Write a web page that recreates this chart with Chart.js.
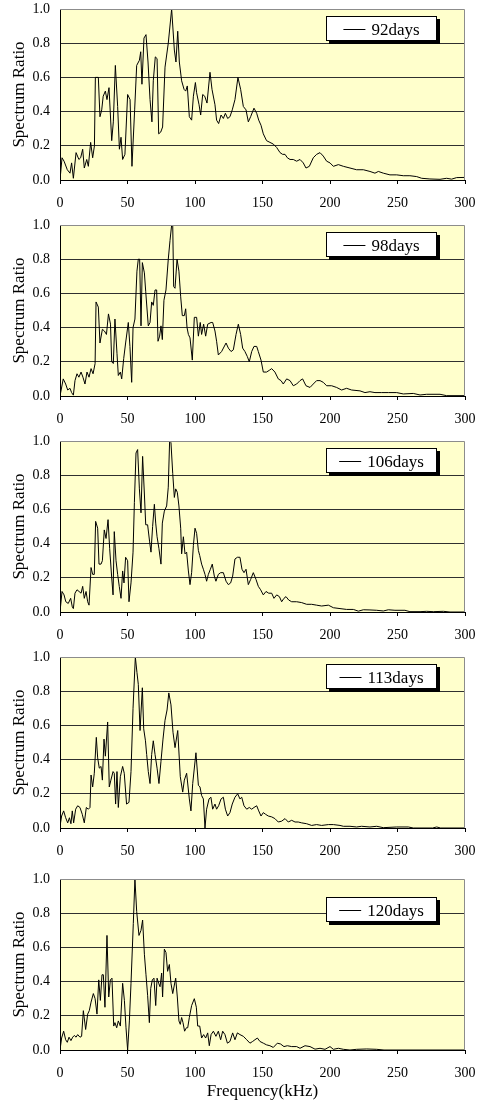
<!DOCTYPE html>
<html>
<head>
<meta charset="utf-8">
<script src="https://cdn.jsdelivr.net/npm/chart.js@4.4.1/dist/chart.umd.min.js"></script>
<style>
  body { margin: 0; background: #fff; }
  .panel { position: absolute; left: 0; width: 479px; }
</style>
</head>
<body>
<div class="panel" style="top:0px"><canvas id="c92" width="479" height="215"></canvas></div>
<div class="panel" style="top:216px"><canvas id="c98" width="479" height="215"></canvas></div>
<div class="panel" style="top:432px"><canvas id="c106" width="479" height="215"></canvas></div>
<div class="panel" style="top:648px"><canvas id="c113" width="479" height="215"></canvas></div>
<div class="panel" style="top:870px"><canvas id="c120" width="479" height="240"></canvas></div>
<script>
'use strict';

// tick labels
const xTicks = [0, 50, 100, 150, 200, 250, 300];
const yTicks = [0, 0.2, 0.4, 0.6, 0.8, 1.0];

// 92 days
const freq92 = [0,1.5,3,5.4,7.4,8.6,9.9,11.9,14,15.3,16.8,18,19.8,21,22.7,24.2,25.5,26.2,28.4,29.6,30.9,32,33.6,34.8,36.3,38.3,39.5,41,42.7,44,45.2,46.4,48.1,50.1,51.9,53.3,55.3,56.8,58.8,59.8,60.7,62.2,63.7,65.2,66.7,68.1,69.1,70.6,71.9,73.1,74.6,76,77.8,80.2,82.7,84.7,85.9,87.2,88.4,90.1,91.9,93.1,94.3,95.8,97.5,98.8,100.3,101.2,103,104.2,105.7,107.2,108.9,111.1,112.6,114.8,116,117.5,119.3,121,122.5,124.2,125.9,127.6,129.6,131.8,133.8,135.8,137.8,139.5,141.2,143.7,145.7,147.2,148.9,150.6,153,155.5,158,160.5,163,164.9,166.7,168.4,170.4,172.8,175.3,177.8,180.2,182.2,184.7,187.6,190.1,192.6,195,197.5,200,202.5,206.2,209.9,214.8,219.7,224.7,229.6,233.3,235.8,239.5,244.4,249.4,254.3,259.2,264.2,267.9,274,281.5,286.4,290.1,293.8,300];
const ratio92 = [0,0.13,0.11,0.06,0.04,0.10,0.01,0.16,0.12,0.13,0.18,0.07,0.12,0.08,0.22,0.13,0.20,0.60,0.60,0.37,0.41,0.49,0.52,0.47,0.54,0.23,0.34,0.67,0.43,0.18,0.25,0.12,0.15,0.50,0.47,0.08,0.41,0.67,0.70,0.75,0.56,0.83,0.85,0.69,0.47,0.34,0.58,0.72,0.71,0.27,0.28,0.31,0.66,0.80,1.0,0.76,0.69,0.87,0.69,0.58,0.53,0.52,0.55,0.37,0.35,0.49,0.57,0.51,0.44,0.38,0.50,0.49,0.45,0.63,0.53,0.44,0.35,0.33,0.38,0.36,0.39,0.36,0.37,0.41,0.47,0.60,0.53,0.43,0.41,0.34,0.37,0.42,0.39,0.35,0.32,0.27,0.23,0.22,0.21,0.19,0.16,0.15,0.15,0.13,0.12,0.12,0.11,0.12,0.10,0.07,0.08,0.13,0.15,0.16,0.14,0.11,0.10,0.08,0.09,0.08,0.07,0.06,0.06,0.05,0.04,0.05,0.04,0.03,0.03,0.025,0.025,0.02,0.01,0.006,0.004,0.01,0.005,0.014,0.015];

// 98 days
const freq98 = [0,2.4,4.2,5.7,7.4,8.6,9.9,11.1,12.6,14,15.6,17,18.5,20,21.5,23,24.5,26,26.7,28.4,29.6,31.4,32.9,34.4,35.9,37.4,38.3,39.5,40.7,42.2,43.2,44.7,45.7,47.2,48.6,50.6,51.8,53.1,54.1,55.5,57,58,59,60,61,62.5,63.5,65.4,66.7,67.9,69.1,70.4,71.6,72.6,73.8,74.8,75.8,77,78.5,80.2,81.5,82.7,83.5,84.2,85.2,86.7,88.1,89.4,90.6,92.1,93.1,94.1,95.1,96.3,98,99.5,101.2,102.5,103.9,104.9,106.4,107.9,109.4,111.9,113.1,114.8,116,117.3,119.7,123,124.7,126.7,128.4,130.4,132.1,133.8,135.3,137,138.8,140.2,142,143.7,145.7,146.9,148.9,150.6,153,155,156.8,159.2,161.7,163.7,165.4,167.9,170.4,172.8,175.3,177.8,179.7,182.2,185.2,187.6,190.1,192.6,195,197.5,201.2,204.9,208.6,212.3,216,222.2,225.9,229.6,233.3,238.3,243.2,249.4,254.3,261.7,266.7,271.6,281.5,286.4,300];
const ratio98 = [0,0.10,0.07,0.035,0.045,0.02,0.005,0.09,0.13,0.11,0.14,0.11,0.07,0.14,0.11,0.16,0.13,0.19,0.55,0.52,0.31,0.39,0.38,0.36,0.48,0.42,0.20,0.19,0.45,0.25,0.12,0.14,0.10,0.22,0.31,0.43,0.29,0.08,0.40,0.45,0.73,0.80,0.80,0.41,0.78,0.72,0.61,0.41,0.43,0.55,0.53,0.62,0.62,0.32,0.35,0.41,0.33,0.56,0.62,0.80,0.91,1.0,1.0,0.64,0.63,0.80,0.73,0.58,0.47,0.47,0.51,0.40,0.36,0.34,0.21,0.46,0.46,0.35,0.43,0.36,0.42,0.35,0.42,0.43,0.43,0.38,0.32,0.24,0.26,0.31,0.28,0.26,0.27,0.36,0.42,0.36,0.28,0.26,0.23,0.20,0.26,0.29,0.29,0.26,0.21,0.14,0.14,0.15,0.16,0.14,0.10,0.09,0.07,0.10,0.09,0.06,0.07,0.09,0.10,0.06,0.05,0.07,0.09,0.09,0.08,0.06,0.06,0.05,0.035,0.045,0.035,0.03,0.02,0.025,0.02,0.02,0.02,0.02,0.012,0.015,0.006,0.01,0.01,0.002,0.002];

// 106 days
const freq106 = [0,1.5,3,4.3,6.1,7.9,9.1,9.9,11.1,12.6,14.1,15.6,16.8,18,19.3,20.5,21.5,23,24.2,25.4,26.4,27.9,28.9,30.4,31.4,32.8,34.1,35.6,36.8,38.3,39.3,40.2,41.5,42.7,43.9,45.2,46.4,47.4,48.6,50.1,51.1,52.6,54.1,55.1,56.3,57.5,58.8,60,61.2,62.5,63.5,64.9,66.4,67.4,68.6,69.9,70.9,71.9,73.3,74.8,75.8,77.3,79,80.2,81.2,82.2,83.5,84.7,85.7,86.9,88.1,89.4,90.1,91.4,92.6,93.8,95.1,96.3,97.5,98.8,100,101.2,102.5,103.5,104.9,106.2,107.4,108.6,109.9,111.4,112.8,114.3,115.5,117.3,119,121,123,124.7,126.4,127.9,129.6,131.4,133.3,134.8,136.3,137.8,139.5,141.2,143.2,145.2,146.9,148.6,150.6,152.6,154.6,156.8,158.5,160.5,162.5,164.2,165.9,167.4,169.4,171.6,175.3,179,182.7,186.4,190.1,193.8,198.8,202.5,207.4,212.3,217.3,221,224.7,229.6,234.6,239.5,243.2,248.1,255.5,259.2,266.7,271.6,276.5,284,288.9,300];
const ratio106 = [0,0.12,0.10,0.06,0.05,0.08,0.03,0.02,0.11,0.13,0.12,0.11,0.15,0.08,0.12,0.06,0.04,0.26,0.22,0.22,0.53,0.49,0.28,0.28,0.30,0.48,0.43,0.54,0.37,0.20,0.10,0.47,0.30,0.22,0.15,0.08,0.24,0.17,0.32,0.30,0.06,0.17,0.35,0.64,0.93,0.95,0.72,0.58,0.91,0.69,0.51,0.51,0.41,0.35,0.50,0.63,0.52,0.44,0.37,0.28,0.52,0.59,0.62,0.73,1.0,0.99,0.81,0.67,0.72,0.70,0.62,0.49,0.34,0.44,0.34,0.35,0.24,0.16,0.23,0.39,0.49,0.46,0.36,0.33,0.28,0.25,0.22,0.18,0.22,0.25,0.28,0.21,0.18,0.22,0.23,0.23,0.18,0.16,0.17,0.21,0.31,0.32,0.32,0.25,0.23,0.25,0.16,0.19,0.23,0.19,0.15,0.13,0.10,0.12,0.11,0.11,0.08,0.10,0.09,0.06,0.08,0.09,0.07,0.06,0.06,0.055,0.045,0.045,0.04,0.035,0.04,0.025,0.02,0.015,0.015,0.005,0.013,0.012,0.01,0.006,0.013,0.01,0.01,0.002,0.002,0.004,0.002,0.004,0,0];

// 113 days
const freq113 = [0,1.2,2.7,4.2,5.7,7,8.1,9.1,10.1,11.6,13.1,14.8,16.5,18,19.5,21,22.2,23,24.2,25.4,26.9,27.9,29.1,30.4,31.4,32.6,33.6,35.3,36.5,37.7,39.3,40.2,41.2,42.2,43.2,44.7,46.4,47.6,49.3,51.1,52.6,54.1,55.8,57,58,59.3,61,62,63.3,64.2,65.4,66.7,67.9,69.1,70.4,71.9,73.3,74.8,76.3,77.8,79.3,80.6,82.2,83.7,85.2,87.2,89.1,90.9,92.1,93.8,95.8,97,98.3,100.7,102.5,103.7,104.9,106.2,107.4,108.6,110.4,111.8,113.1,114.8,116,117.5,119.3,121,122.5,124.2,125.9,127.6,129.6,131.6,133.3,134.6,136.3,138.3,140.2,142,143.7,145.7,147.2,148.9,150.6,152.3,154.3,156.8,159.2,161.7,164.2,166.7,169.1,171.6,174.1,176.5,179,182.7,186.4,190.1,193.8,198.8,202.5,207.4,209.9,214.8,219.7,223.4,229.6,234.6,239.5,249.4,258,261.7,276,279,282,300];
const ratio113 = [0.01,0.07,0.10,0.06,0.03,0.06,0.025,0.10,0.03,0.11,0.13,0.12,0.08,0.03,0.12,0.11,0.12,0.31,0.24,0.32,0.53,0.41,0.35,0.36,0.28,0.52,0.42,0.62,0.24,0.28,0.33,0.32,0.14,0.33,0.12,0.30,0.36,0.32,0.14,0.15,0.33,0.70,1.0,0.91,0.84,0.57,0.82,0.58,0.51,0.43,0.33,0.26,0.43,0.51,0.43,0.35,0.26,0.39,0.52,0.63,0.69,0.79,0.72,0.56,0.47,0.57,0.30,0.21,0.28,0.32,0.17,0.10,0.26,0.44,0.25,0.24,0.19,0.17,0.0,0.11,0.17,0.18,0.11,0.14,0.11,0.13,0.17,0.18,0.11,0.07,0.09,0.14,0.18,0.20,0.17,0.18,0.13,0.11,0.12,0.11,0.12,0.13,0.10,0.07,0.09,0.08,0.07,0.065,0.055,0.035,0.04,0.055,0.035,0.045,0.035,0.035,0.03,0.025,0.015,0.02,0.015,0.02,0.02,0.015,0.01,0.01,0.006,0.01,0.006,0.01,0.002,0.006,0.006,0,0,0.006,0,0];

// 120 days
const freq120 = [0,1.2,2.7,4.2,5.4,6.7,8.1,9.4,10.6,11.9,13.1,14.8,16,17.3,19,20.5,21.7,23,24.7,26,27.4,28.7,29.9,31.1,32.1,33.3,34.8,36.1,37.3,38.5,39.8,40.7,42,43.2,44.7,46.4,47.7,48.9,50.1,51.4,52.6,54.3,55.5,56.8,58.5,60,61.2,62.5,63.7,64.9,66.2,67.2,68.4,69.6,70.9,71.9,73.1,74.1,75.3,76,77.3,78.5,79.7,81,82.2,83.5,84.7,85.7,86.9,88.1,89.1,90.1,91.1,92.3,93.6,94.6,95.8,97.5,99.5,101,102,103.5,104.9,106.4,107.9,109.4,110.6,111.9,113.6,115.5,117.3,119,120.5,122.2,124,125.9,127.9,129.6,131.4,133.3,135.8,138.3,140.7,142.7,144.4,146.2,148.1,150.6,153,155.5,158,161,163.4,165.9,168.4,171.6,175.3,177.8,181.5,185.2,188.9,192.6,196.3,200,202.5,206.2,209.9,214.8,219.7,227.2,234.6,240,300];
const ratio120 = [0,0.07,0.11,0.06,0.045,0.075,0.055,0.075,0.085,0.075,0.09,0.075,0.08,0.23,0.12,0.21,0.23,0.28,0.33,0.30,0.21,0.41,0.29,0.44,0.44,0.25,0.67,0.31,0.41,0.42,0.14,0.16,0.13,0.17,0.14,0.39,0.29,0.13,0.0,0.17,0.39,0.74,1.0,0.81,0.67,0.70,0.76,0.56,0.44,0.32,0.16,0.36,0.41,0.42,0.26,0.42,0.39,0.37,0.45,0.31,0.59,0.57,0.46,0.50,0.39,0.33,0.38,0.42,0.31,0.17,0.15,0.19,0.16,0.11,0.13,0.13,0.19,0.26,0.30,0.25,0.14,0.14,0.07,0.09,0.07,0.10,0.025,0.09,0.11,0.08,0.11,0.06,0.11,0.09,0.04,0.05,0.10,0.06,0.10,0.09,0.08,0.06,0.04,0.05,0.06,0.07,0.05,0.04,0.03,0.025,0.015,0.04,0.035,0.02,0.025,0.02,0.02,0.01,0.025,0.02,0.005,0.01,0.004,0.02,0.004,0.01,0.004,0,0.004,0.006,0.004,0,0];

const serif = "'Liberation Serif', 'Times New Roman', serif";

// fondo amarillo del area de trazado y borde gris arriba/derecha
const plotFrame = {
  id: 'plotFrame',
  beforeDraw(chart) {
    const a = chart.chartArea;
    const ctx = chart.ctx;
    ctx.save();
    ctx.fillStyle = '#FFFFCC';
    ctx.fillRect(a.left, a.top, a.right - a.left, a.bottom - a.top);
    ctx.restore();
  },
  afterDatasetsDraw(chart) {
    const a = chart.chartArea;
    const ctx = chart.ctx;
    ctx.save();
    ctx.strokeStyle = '#8c8c8c';
    ctx.lineWidth = 1;
    ctx.beginPath();
    ctx.moveTo(a.left, a.top + 0.5);
    ctx.lineTo(a.right - 0.5, a.top + 0.5);
    ctx.lineTo(a.right - 0.5, a.bottom);
    ctx.stroke();
    ctx.restore();
  }
};

// leyenda tipo Excel: caja blanca con sombra
const boxLegend = {
  id: 'boxLegend',
  afterDraw(chart, args, opts) {
    const a = chart.chartArea;
    const ctx = chart.ctx;
    const w = opts.width, h = opts.height;
    const x = a.right - 28 - w;
    const y = a.top + opts.top;
    const label = chart.data.datasets[0].label;
    ctx.save();
    ctx.fillStyle = '#000';
    ctx.fillRect(x + 3, y + 3, w, h);
    ctx.fillStyle = '#fff';
    ctx.fillRect(x, y, w, h);
    ctx.strokeStyle = '#000';
    ctx.lineWidth = 1;
    ctx.strokeRect(x + 0.5, y + 0.5, w - 1, h - 1);
    ctx.font = '17px ' + serif;
    const tw = ctx.measureText(label).width;
    const total = 22 + 6 + tw;
    const sx = x + (w - total) / 2;
    const cy = Math.round(y + h / 2) + 0.5;
    ctx.beginPath();
    ctx.moveTo(sx, cy);
    ctx.lineTo(sx + 22, cy);
    ctx.stroke();
    ctx.fillStyle = '#000';
    ctx.textBaseline = 'middle';
    ctx.fillText(label, sx + 28, cy + 1);
    ctx.restore();
  }
};

function crearGrafico(id, label, freq, ratio, legendTop, showTitle) {
  const ctx = document.getElementById(id).getContext('2d');
  return new Chart(ctx, {
    type: 'line',
    data: {
      datasets: [{
        label: label,
        data: freq.map((f, i) => ({ x: f, y: ratio[i] })),
        borderColor: '#000',
        borderWidth: 1,
        pointRadius: 0,
        tension: 0,
        fill: false
      }]
    },
    options: {
      responsive: false,
      animation: false,
      events: [],
      layout: { padding: { top: 9, right: 14, left: 0, bottom: 0 } },
      plugins: {
        legend: { display: false },
        tooltip: { enabled: false },
        boxLegend: { top: legendTop, width: 111, height: 25 }
      },
      scales: {
        x: {
          type: 'linear',
          min: 0,
          max: 300,
          afterBuildTicks: s => { s.ticks = xTicks.map(v => ({ value: v })); },
          afterFit: s => {
            s.height = showTitle ? 60 : 35;
            s.paddingLeft = 0;
            s.paddingRight = 0;
          },
          ticks: {
            color: '#000',
            font: { family: serif, size: 14 },
            padding: 11,
            maxRotation: 0
          },
          grid: {
            drawOnChartArea: false,
            drawTicks: true,
            tickLength: 4,
            color: '#000'
          },
          border: { color: '#000', width: 1 },
          title: {
            display: showTitle,
            text: 'Frequency(kHz)',
            color: '#000',
            font: { family: serif, size: 17 },
            padding: 8
          }
        },
        y: {
          min: 0,
          max: 1,
          afterBuildTicks: s => { s.ticks = yTicks.map(v => ({ value: v })); },
          afterFit: s => {
            s.width = 60;
            s.paddingTop = 0;
            s.paddingBottom = 0;
          },
          ticks: {
            color: '#000',
            font: { family: serif, size: 14 },
            padding: 10,
            callback: v => v.toFixed(1)
          },
          grid: {
            drawTicks: false,
            color: c => (c.tick && c.tick.value === 1 ? 'rgba(0,0,0,0)' : '#303030'),
            lineWidth: 1
          },
          border: { color: '#000', width: 1 },
          title: {
            display: true,
            text: 'Spectrum Ratio',
            color: '#000',
            font: { family: serif, size: 17 },
            padding: 9
          }
        }
      }
    },
    plugins: [plotFrame, boxLegend]
  });
}

crearGrafico('c92', '92days', freq92, ratio92, 7, false);
crearGrafico('c98', '98days', freq98, ratio98, 7, false);
crearGrafico('c106', '106days', freq106, ratio106, 7, false);
crearGrafico('c113', '113days', freq113, ratio113, 7, false);
crearGrafico('c120', '120days', freq120, ratio120, 18, true);
</script>
</body>
</html>
